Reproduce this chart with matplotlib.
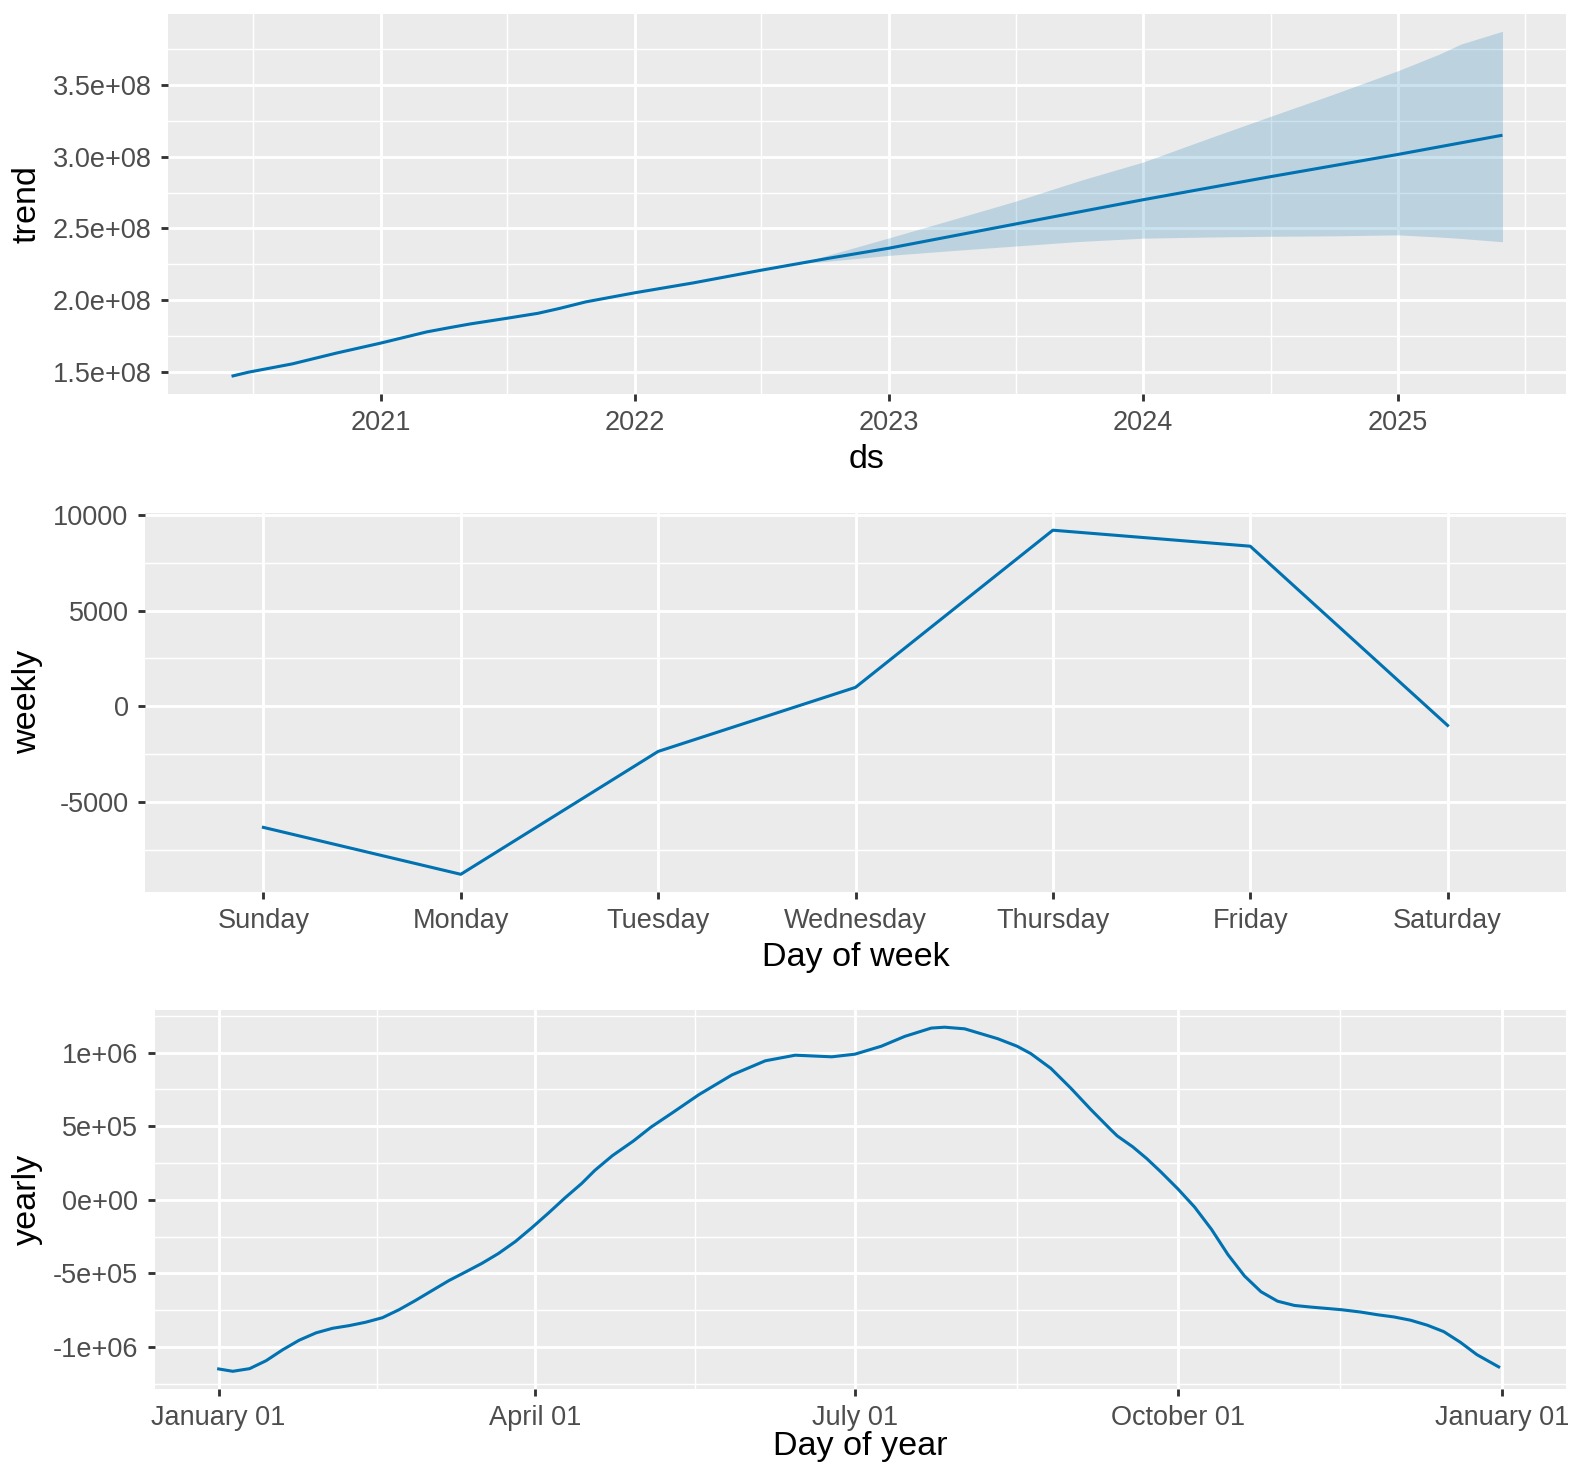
import matplotlib
matplotlib.use("Agg")
import matplotlib.pyplot as plt
import matplotlib.dates as mdates
import matplotlib.transforms as mtransforms
import pandas as pd
from matplotlib.ticker import FixedLocator, FixedFormatter

# ---------------- data ----------------
trend_dates = ["2020-06-01", "2020-06-25", "2020-08-27", "2020-10-30", "2021-01-01",
               "2021-03-08", "2021-04-10", "2021-05-10", "2021-07-01", "2021-08-15",
               "2021-09-15", "2021-10-23", "2022-01-01", "2022-03-26", "2022-07-01",
               "2022-10-03", "2023-01-01", "2023-07-01", "2024-01-01", "2024-07-01",
               "2025-01-01", "2025-05-31"]
trend_values = [1.469e8, 1.497e8, 1.555e8, 1.631e8, 1.700e8,
                1.778e8, 1.808e8, 1.834e8, 1.873e8, 1.908e8,
                1.942e8, 1.988e8, 2.051e8, 2.120e8, 2.208e8,
                2.289e8, 2.362e8, 2.530e8, 2.700e8, 2.860e8,
                3.016e8, 3.150e8]

band_dates = ["2022-08-25", "2022-10-03", "2023-01-01", "2023-04-01", "2023-07-01",
              "2023-10-05", "2024-01-01", "2024-04-05", "2024-07-01", "2024-09-27",
              "2025-01-01", "2025-03-01", "2025-04-01", "2025-05-31"]
band_lower = [2.255e8, 2.270e8, 2.312e8, 2.345e8, 2.377e8,
              2.410e8, 2.432e8, 2.440e8, 2.445e8, 2.448e8,
              2.455e8, 2.440e8, 2.430e8, 2.407e8]
band_upper = [2.255e8, 2.310e8, 2.434e8, 2.560e8, 2.689e8,
              2.838e8, 2.963e8, 3.130e8, 3.280e8, 3.430e8,
              3.600e8, 3.715e8, 3.785e8, 3.875e8]

trend_x_ticks = ["2021-01-01", "2022-01-01", "2023-01-01", "2024-01-01", "2025-01-01"]
trend_x_labels = ["2021", "2022", "2023", "2024", "2025"]
trend_x_minor = ["2020-07-02", "2021-07-02", "2022-07-02", "2023-07-02", "2024-07-02", "2025-07-02"]
trend_y_ticks = [1.5e8, 2.0e8, 2.5e8, 3.0e8, 3.5e8]
trend_y_labels = ["1.5e+08", "2.0e+08", "2.5e+08", "3.0e+08", "3.5e+08"]
trend_y_minor = [1.75e8, 2.25e8, 2.75e8, 3.25e8, 3.75e8]

weekdays = ["Sunday", "Monday", "Tuesday", "Wednesday", "Thursday", "Friday", "Saturday"]
weekly_values = [-6315, -8763, -2351, 993, 9195, 8360, -993]
weekly_y_ticks = [-5000, 0, 5000, 10000]
weekly_y_labels = ["-5000", "0", "5000", "10000"]
weekly_y_minor = [-7500, -2500, 2500, 7500]

yearly_days = [0, 4, 8.8, 13.5, 18.2, 22.9, 27.7, 32.4, 37.1, 41.8, 46.6, 51.3, 56,
               60.7, 65.5, 70.2, 74.9, 79.6, 84.4, 89.1, 93.8, 98.5, 103.3, 107, 112,
               118, 123, 129, 136.6, 146, 155.5, 164, 174.4, 181, 188.5, 195.2, 202.7,
               206.5, 212.2, 221.6, 227.1, 231, 236.7, 242.4, 248.1, 253.7, 255.6, 260,
               264, 268, 272.9, 277.6, 282.4, 287.1, 291.8, 296.5, 301.2, 306, 310.7,
               319.4, 324.9, 329.6, 334.3, 339, 343.8, 348.5, 353.2, 357.9, 364.1]
yearly_values = [-1.148e6, -1.164e6, -1.146e6, -1.092e6, -1.018e6, -0.953e6, -0.903e6,
                 -0.872e6, -0.854e6, -0.831e6, -0.800e6, -0.746e6, -0.683e6, -0.616e6,
                 -0.548e6, -0.490e6, -0.431e6, -0.364e6, -0.283e6, -0.189e6, -0.090e6,
                 0.013e6, 0.112e6, 0.200e6, 0.300e6, 0.400e6, 0.494e6, 0.590e6,
                 0.714e6, 0.848e6, 0.944e6, 0.982e6, 0.971e6, 0.989e6, 1.043e6,
                 1.110e6, 1.166e6, 1.172e6, 1.161e6, 1.094e6, 1.043e6, 0.993e6,
                 0.893e6, 0.758e6, 0.613e6, 0.478e6, 0.434e6, 0.360e6, 0.280e6,
                 0.190e6, 0.073e6, -0.049e6, -0.200e6, -0.372e6, -0.517e6, -0.624e6,
                 -0.688e6, -0.717e6, -0.728e6, -0.746e6, -0.762e6, -0.780e6, -0.795e6,
                 -0.817e6, -0.851e6, -0.895e6, -0.967e6, -1.051e6, -1.134e6]
yearly_x_ticks = [0, 90, 181, 273, 365]
yearly_x_labels = ["January 01", "April 01", "July 01", "October 01", "January 01"]
yearly_x_minor = [45, 135.5, 227, 319]
yearly_y_ticks = [-1e6, -5e5, 0, 5e5, 1e6]
yearly_y_labels = ["-1e+06", "-5e+05", "0e+00", "5e+05", "1e+06"]
yearly_y_minor = [-1.25e6, -7.5e5, -2.5e5, 2.5e5, 7.5e5, 1.25e6]

LINE = "#0072B2"

# ---------------- figure ----------------
plt.rcParams['font.family'] = ['Liberation Sans', 'DejaVu Sans']
DPI = 192
W, H = 1580, 1468
fig = plt.figure(figsize=(W / DPI, H / DPI), dpi=DPI)

TICK_FS = 10.2
TITLE_FS = 12.8
LW = 1.15


def axes_px(left, top, right, bottom):
    return fig.add_axes([left / W, 1 - bottom / H, (right - left) / W, (bottom - top) / H])


def style(ax):
    ax.set_facecolor("#EBEBEB")
    for s in ax.spines.values():
        s.set_visible(False)
    ax.set_axisbelow(True)
    ax.grid(True, which="major", color="white", linewidth=1.07)
    ax.grid(True, which="minor", color="white", linewidth=0.53)
    ax.tick_params(which="major", length=2.75, width=1.07, color="#333333",
                   labelsize=TICK_FS, labelcolor="#4D4D4D", pad=3.4)
    ax.tick_params(which="minor", length=0, width=0)


def ylab(ax, text):
    ax.set_ylabel(text, fontsize=TITLE_FS, color="black")
    ax.yaxis.set_label_coords(43 / W, 0.5,
                              transform=mtransforms.blended_transform_factory(fig.transFigure, ax.transAxes))


def xlab(ax, text, top_px):
    ax.set_xlabel(text, fontsize=TITLE_FS, color="black")
    ax.xaxis.set_label_coords(0.5, 1 - top_px / H,
                              transform=mtransforms.blended_transform_factory(ax.transAxes, fig.transFigure))


# ---- trend ----
ax1 = axes_px(168, 14, 1566, 393.5)
style(ax1)
td = pd.to_datetime(trend_dates)
bd = pd.to_datetime(band_dates)
ax1.plot(td, trend_values, color=LINE, linewidth=LW, solid_capstyle="butt")
ax1.fill_between(bd, band_lower, band_upper, color=LINE, alpha=0.2, linewidth=0)
ax1.margins(x=0.05, y=0.05)
ax1.xaxis.set_major_locator(FixedLocator(mdates.date2num(pd.to_datetime(trend_x_ticks))))
ax1.xaxis.set_major_formatter(FixedFormatter(trend_x_labels))
ax1.xaxis.set_minor_locator(FixedLocator(mdates.date2num(pd.to_datetime(trend_x_minor))))
ax1.yaxis.set_major_locator(FixedLocator(trend_y_ticks))
ax1.yaxis.set_major_formatter(FixedFormatter(trend_y_labels))
ax1.yaxis.set_minor_locator(FixedLocator(trend_y_minor))
xlab(ax1, "ds", 444)
ylab(ax1, "trend")

# ---- weekly ----
ax2 = axes_px(145, 513, 1566, 891.5)
style(ax2)
xw = list(range(len(weekdays)))
ax2.plot(xw, weekly_values, color=LINE, linewidth=LW)
ax2.set_xlim(-0.6, len(weekdays) - 1 + 0.6)
ax2.margins(y=0.05)
ax2.xaxis.set_major_locator(FixedLocator(xw))
ax2.xaxis.set_major_formatter(FixedFormatter(weekdays))
ax2.yaxis.set_major_locator(FixedLocator(weekly_y_ticks))
ax2.yaxis.set_major_formatter(FixedFormatter(weekly_y_labels))
ax2.yaxis.set_minor_locator(FixedLocator(weekly_y_minor))
xlab(ax2, "Day of week", 942)
ylab(ax2, "weekly")

# ---- yearly ----
ax3 = axes_px(154.5, 1010, 1566, 1388.5)
style(ax3)
ax3.plot(yearly_days, yearly_values, color=LINE, linewidth=LW)
ax3.set_xlim(-0.05 * 365, 365 * 1.05)
ax3.margins(y=0.05)
ax3.xaxis.set_major_locator(FixedLocator(yearly_x_ticks))
ax3.xaxis.set_major_formatter(FixedFormatter(yearly_x_labels))
ax3.xaxis.set_minor_locator(FixedLocator(yearly_x_minor))
ax3.yaxis.set_major_locator(FixedLocator(yearly_y_ticks))
ax3.yaxis.set_major_formatter(FixedFormatter(yearly_y_labels))
ax3.yaxis.set_minor_locator(FixedLocator(yearly_y_minor))
xlab(ax3, "Day of year", 1431)
ylab(ax3, "yearly")

fig.savefig("out.png", dpi=DPI, facecolor="white")
